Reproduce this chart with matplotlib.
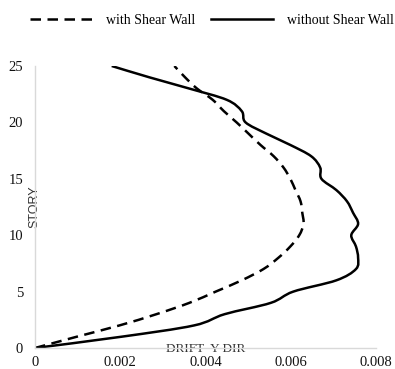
import matplotlib
matplotlib.use("Agg")
import matplotlib.pyplot as plt
import numpy as np
from matplotlib.path import Path
from matplotlib.patches import PathPatch
from matplotlib.lines import Line2D

# Storey drift in the Y direction, storeys 0..25
stories = list(range(26))
drift_with_wall = [0.0, 0.00098, 0.00198, 0.00285, 0.00362, 0.00424, 0.00485,
                   0.00536, 0.00571, 0.00599, 0.00620, 0.00630, 0.00627,
                   0.00623, 0.00611, 0.00599, 0.00583, 0.00560, 0.00529,
                   0.00501, 0.00473, 0.00443, 0.00417, 0.00380, 0.00352,
                   0.00327]
drift_without_wall = [0.0, 0.00203, 0.00373, 0.00445, 0.00553, 0.00606,
                      0.00707, 0.00753, 0.00758, 0.00753, 0.00742, 0.00758,
                      0.00746, 0.00732, 0.00707, 0.00672, 0.00669, 0.00648,
                      0.00599, 0.00543, 0.00494, 0.00485, 0.00450, 0.00362,
                      0.00268, 0.00180]
series_labels = ["with Shear Wall", "without Shear Wall"]
x_ticks = [0, 0.002, 0.004, 0.006, 0.008]
x_tick_labels = ["0", "0.002", "0.004", "0.006", "0.008"]
y_ticks = [0, 5, 10, 15, 20, 25]

SERIF = ["Liberation Serif", "DejaVu Serif"]
SANS = ["Liberation Sans", "DejaVu Sans"]


def smooth_path(xs, ys):
    """Catmull-Rom curve through the points, as cubic Bezier segments."""
    pts = np.column_stack([xs, ys]).astype(float)
    ext = np.vstack([pts[0], pts, pts[-1]])
    verts = [tuple(pts[0])]
    codes = [Path.MOVETO]
    for i in range(1, len(ext) - 2):
        p0, p1, p2, p3 = ext[i - 1], ext[i], ext[i + 1], ext[i + 2]
        c1 = p1 + (p2 - p0) / 6.0
        c2 = p2 - (p3 - p1) / 6.0
        verts += [tuple(c1), tuple(c2), tuple(p2)]
        codes += [Path.CURVE4] * 3
    return Path(verts, codes)


fig = plt.figure(figsize=(3.95, 3.69), dpi=100)
ax = fig.add_axes([35 / 395, 1 - 348 / 369, (376 - 35) / 395, (348 - 66) / 369])

lw = 1.8
dash = (0, (4.2, 2.6))
ax.add_patch(PathPatch(smooth_path(drift_with_wall, stories), fill=False,
                       edgecolor="black", lw=lw, linestyle=dash,
                       capstyle="butt", transform=ax.transData))
ax.add_patch(PathPatch(smooth_path(drift_without_wall, stories), fill=False,
                       edgecolor="black", lw=lw, transform=ax.transData))

ax.set_xlim(0, 0.008)
ax.set_ylim(0, 25)
ax.set_xticks(x_ticks)
ax.set_xticklabels(x_tick_labels)
ax.set_yticks(y_ticks)
for lab in ax.get_xticklabels() + ax.get_yticklabels():
    lab.set_fontfamily(SERIF)
    lab.set_fontsize(10.5)
    lab.set_color("#111111")
ax.tick_params(axis="both", length=0)
ax.tick_params(axis="x", pad=5.6)
ax.tick_params(axis="y", pad=8.5)

for side in ("top", "right"):
    ax.spines[side].set_visible(False)
for side in ("left", "bottom"):
    ax.spines[side].set_color("#d9d9d9")
    ax.spines[side].set_linewidth(1.0)

title_box = dict(facecolor="white", edgecolor="none", pad=0.6)
ax.set_xlabel("DRIFT- Y DIR", fontfamily=SERIF, fontsize=9.5, color="#333333",
              va="center", ha="center", bbox=title_box)
ax.xaxis.set_label_coords(0.5, -0.0035)
ax.set_ylabel("STORY", fontfamily=SANS, fontsize=9, color="#333333",
              va="center", ha="center", bbox=title_box)
ax.yaxis.set_label_coords(-0.003, 0.5)

handles = [Line2D([], [], color="black", lw=lw, linestyle=dash,
                  dash_capstyle="butt"),
           Line2D([], [], color="black", lw=lw)]
fig.legend(handles, series_labels, loc="center",
           bbox_to_anchor=(212 / 395, 1 - 20 / 369), ncol=2, frameon=False,
           prop={"family": SERIF, "size": 10}, handlelength=4.5,
           handletextpad=1.0, columnspacing=1.1, borderaxespad=0)

fig.savefig("out.png", dpi=100)
